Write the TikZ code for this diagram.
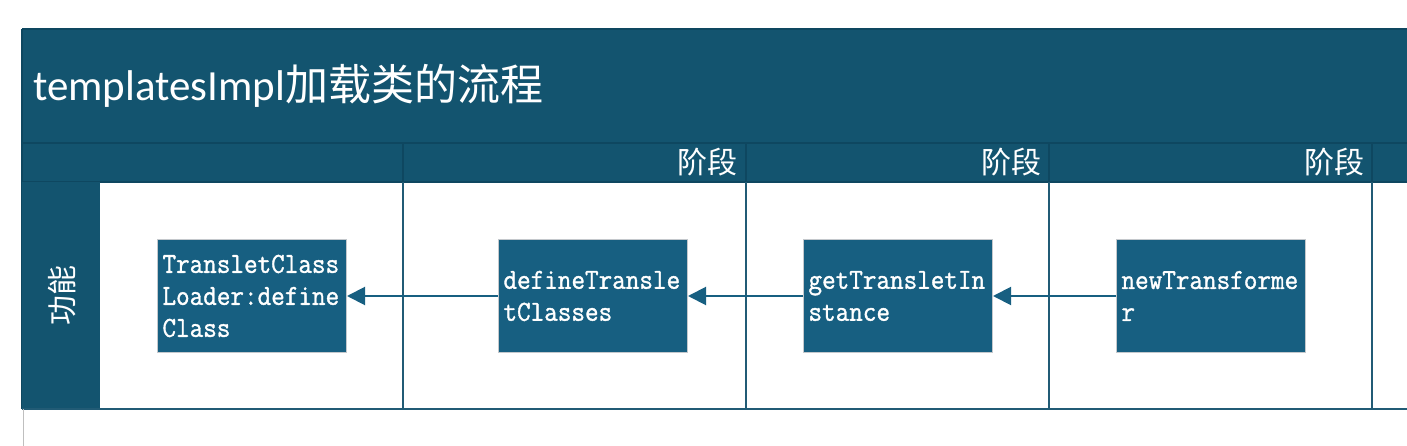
\documentclass[tikz,border=0pt]{standalone}
\usepackage{fontspec}
\usetikzlibrary{arrows.meta}
\setmainfont{Carlito}
\newfontfamily\cjk{Noto Sans CJK SC}
\newfontfamily\boxfont[FakeStretch=0.91,FakeBold=1.2]{Latin Modern Mono}
\definecolor{band}{HTML}{13546F}
\definecolor{bandline}{HTML}{0E4760}
\definecolor{boxfill}{HTML}{175F81}
\definecolor{boxedge}{HTML}{C4C8CC}
\definecolor{divider}{HTML}{215B75}
\tikzset{
  x=1pt, y=-1pt,
  stepbox/.style={draw=boxedge, line width=1pt, fill=boxfill, text=white,
    minimum width=189pt, minimum height=113pt, text width=179pt,
    inner xsep=5pt, inner ysep=0pt, align=left, anchor=north west,
    font=\boxfont\fontsize{29}{32}\selectfont},
  phaselabel/.style={text=white, anchor=east, inner sep=0pt,
    font=\cjk\fontsize{30}{30}\selectfont},
  flow/.style={draw=boxfill, line width=2pt, -{Triangle[length=18pt,width=18pt]}},
}
\begin{document}
\begin{tikzpicture}
\useasboundingbox (0,0) rectangle (1407,446);
% title band and header row
\fill[band] (22,29) rectangle (1407,182);
\draw[bandline, line width=1.2pt] (22,29) -- (1407,29);
\draw[bandline, line width=1.2pt] (22,143) -- (1407,143);
\draw[bandline, line width=1.2pt] (22,182) -- (1407,182);
\draw[bandline, line width=1.2pt] (22,29) -- (22,409);
\foreach \xx in {403,746,1049,1372} \draw[bandline, line width=1.2pt] (\xx,143) -- (\xx,182);
% lane header
\fill[band] (22,182) rectangle (100,409);
% body dividers
\foreach \xx in {403,746,1049,1372} \draw[divider, line width=1.5pt] (\xx,182) -- (\xx,409);
\draw[divider, line width=2pt] (22,409) -- (1407,409);
\draw[gray!50, line width=1pt] (23,409) -- (23,446);
% texts
\node[text=white, anchor=base west, inner sep=0pt, font=\fontsize{43}{43}\selectfont] (title) at (33,101) {templatesImpl{\cjk 加载类的流程}};
\node[phaselabel] (p1) at (738,162) {阶段};
\node[phaselabel] (p2) at (1042,162) {阶段};
\node[phaselabel] (p3) at (1365,162) {阶段};
\node[text=white, rotate=90, inner sep=0pt, font=\cjk\fontsize{30}{30}\selectfont] (lane) at (62,295) {功能};
% boxes
\node[stepbox] (b1) at (157,239) {TransletClass\\Loader:define\\Class};
\node[stepbox] (b2) at (498,239) {defineTransle\\tClasses};
\node[stepbox] (b3) at (803,239) {getTransletIn\\stance};
\node[stepbox] (b4) at (1116,239) {newTransforme\\r};
% connectors
\draw[flow] (b4.west) -- (b3.east);
\draw[flow] (b3.west) -- (b2.east);
\draw[flow] (b2.west) -- (b1.east);
\end{tikzpicture}
\end{document}
